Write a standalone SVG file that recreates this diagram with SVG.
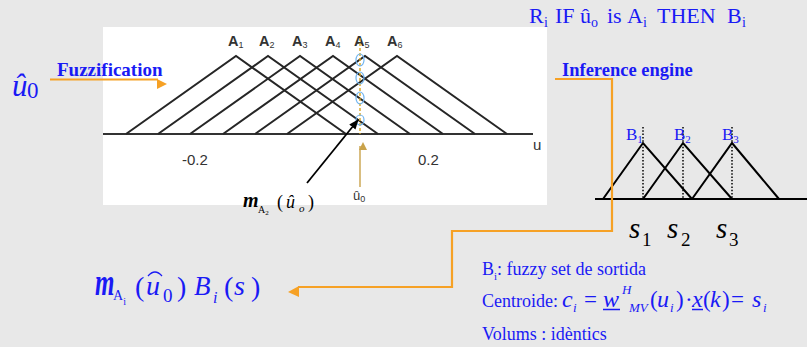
<svg xmlns="http://www.w3.org/2000/svg" width="807" height="347" viewBox="0 0 807 347">
<defs>
<style>
.blue{fill:#1a1af5;font-family:"Liberation Serif","Times New Roman",serif}
.bb{font-weight:bold}
.it{font-style:italic}
.ax{font-family:"Liberation Sans",Arial,sans-serif;fill:#333}
.blk{font-family:"Liberation Serif","Times New Roman",serif;fill:#000}
.tri{fill:none;stroke:#262626;stroke-width:2}
.tri2{fill:none;stroke:#000;stroke-width:2}
.orange{fill:none;stroke:#f6a125;stroke-width:2.2}
.circ{fill:none;stroke:#6fb4f0;stroke-width:1.2}
</style>
<marker id="blk" markerWidth="10" markerHeight="10" refX="9" refY="5" orient="auto" markerUnits="userSpaceOnUse">
<path d="M0,1 L10,5 L0,9 Z" fill="#000"/>
</marker>
<marker id="gold" markerWidth="8" markerHeight="8" refX="4" refY="1" orient="auto" markerUnits="userSpaceOnUse">
<path d="M0,0 L8,4 L0,8 Z" fill="#c9a24a"/>
</marker>
</defs>
<rect width="807" height="347" fill="#e8e8e8"/>

<g id="fuzzy-plot">
<rect x="103" y="27" width="444" height="178" fill="#fff"/>
<line x1="103" y1="134" x2="533" y2="134" stroke="#333" stroke-width="2.2"/>
<polyline class="tri" points="126,134 236,56 346,134"/>
<polyline class="tri" points="158,134 268,56 378,134"/>
<polyline class="tri" points="190,134 300,56 410,134"/>
<polyline class="tri" points="223,134 333,56 443,134"/>
<polyline class="tri" points="255,134 365,56 475,134"/>
<polyline class="tri" points="287,134 397,56 507,134"/>
<text class="ax" x="228" y="46" font-size="14.5" font-weight="bold" fill="#2a2a2a">A<tspan font-size="9" dy="2" font-weight="normal">1</tspan></text>
<text class="ax" x="259" y="46" font-size="14.5" font-weight="bold" fill="#2a2a2a">A<tspan font-size="9" dy="2" font-weight="normal">2</tspan></text>
<text class="ax" x="292" y="46" font-size="14.5" font-weight="bold" fill="#2a2a2a">A<tspan font-size="9" dy="2" font-weight="normal">3</tspan></text>
<text class="ax" x="325" y="46" font-size="14.5" font-weight="bold" fill="#2a2a2a">A<tspan font-size="9" dy="2" font-weight="normal">4</tspan></text>
<text class="ax" x="354" y="46" font-size="14.5" font-weight="bold" fill="#2a2a2a">A<tspan font-size="9" dy="2" font-weight="normal">5</tspan></text>
<text class="ax" x="387" y="46" font-size="14.5" font-weight="bold" fill="#2a2a2a">A<tspan font-size="9" dy="2" font-weight="normal">6</tspan></text>
<line x1="360" y1="38" x2="360" y2="134" stroke="#d9a520" stroke-width="1.4" stroke-dasharray="3,2"/>
<ellipse class="circ" cx="360" cy="60" rx="4" ry="6"/>
<ellipse class="circ" cx="360" cy="78" rx="4" ry="6"/>
<ellipse class="circ" cx="360" cy="98" rx="4" ry="6"/>
<ellipse class="circ" cx="360" cy="120" rx="4" ry="5"/>
<text class="ax" x="182" y="165" font-size="15" fill="#444">-0.2</text>
<text class="ax" x="418" y="165" font-size="15" fill="#444">0.2</text>
<text class="ax" x="533" y="150" font-size="15" fill="#444">u</text>
<line x1="360" y1="187" x2="360" y2="146" stroke="#c9a24a" stroke-width="1.4" marker-end="url(#gold)"/>
<text class="ax" x="353" y="200" font-size="13" fill="#c9a24a">û<tspan font-size="9" dy="2">0</tspan></text>
<line x1="307" y1="183" x2="358" y2="120" stroke="#000" stroke-width="1.8" marker-end="url(#blk)"/>
</g>

<g id="input-u0">
<text class="blue it" x="12" y="96" font-size="31">û</text>
<text class="blue" x="27" y="98" font-size="23">0</text>
</g>

<g id="fuzzification-label">
<text class="blue bb" x="57" y="76" font-size="19">Fuzzification</text>
</g>

<g id="membership-label">
<text class="blk bb it" x="243" y="207" font-size="20">m</text>
<text class="blk" x="258" y="213" font-size="10">A<tspan font-size="7" dy="2">2</tspan></text>
<text class="blk" x="277" y="208" font-size="18">(</text>
<text class="blk it" x="286" y="208" font-size="18">û</text>
<text class="blk it" x="299" y="212" font-size="11">o</text>
<text class="blk" x="308" y="208" font-size="18">)</text>
</g>

<g id="rule">
<text class="blue" y="23" font-size="22"><tspan x="529">R</tspan><tspan x="544" dy="4" font-size="14">i</tspan><tspan x="555" dy="-4">IF</tspan><tspan x="580">û</tspan><tspan x="591" dy="4" font-size="14">o</tspan><tspan x="607" dy="-4">is</tspan><tspan x="627">A</tspan><tspan x="643" dy="4" font-size="14">i</tspan><tspan x="657" dy="-4">THEN</tspan><tspan x="727">B</tspan><tspan x="742" dy="4" font-size="14">i</tspan></text>
</g>

<g id="inference-label">
<text class="blue bb" x="562" y="76" font-size="18.5">Inference engine</text>
</g>

<g id="output-sets">
<line x1="595" y1="199" x2="807" y2="199" stroke="#000" stroke-width="2"/>
<polyline class="tri2" points="603,199 643,143 692,199"/>
<polyline class="tri2" points="643,199 683,143 732,199"/>
<polyline class="tri2" points="692,199 732,143 779,199"/>
<g stroke="#000" stroke-width="1.5" stroke-dasharray="1.5,1.8">
<line x1="643" y1="127" x2="643" y2="199"/>
<line x1="683" y1="127" x2="683" y2="199"/>
<line x1="732" y1="127" x2="732" y2="199"/>
</g>
<text class="blue" x="626" y="140" font-size="17">B<tspan font-size="11" dy="3">1</tspan></text>
<text class="blue" x="674" y="140" font-size="17">B<tspan font-size="11" dy="3">2</tspan></text>
<text class="blue" x="722" y="140" font-size="17">B<tspan font-size="11" dy="3">3</tspan></text>
<g class="blk" fill="#111">
<text x="629" y="238" font-size="29" font-style="italic">s</text><text x="642" y="246" font-size="19">1</text>
<text x="667" y="238" font-size="29" font-style="italic">s</text><text x="681" y="246" font-size="19">2</text>
<text x="716" y="238" font-size="29" font-style="italic">s</text><text x="729" y="246" font-size="19">3</text>
</g>
</g>

<g id="aggregate-formula" class="blue">
<text class="bb it" x="95" y="196.7" font-size="25" transform="scale(1,1.5)">m</text>
<text x="113" y="300" font-size="14">A<tspan font-size="10" dy="5">i</tspan></text>
<text x="135" y="296" font-size="28">(</text>
<text class="it" x="146" y="295" font-size="28">u</text>
<path d="M148,276 Q155,268 162,276" fill="none" stroke="#1a1af5" stroke-width="1.3"/>
<text x="163" y="302" font-size="19">0</text>
<text x="177" y="296" font-size="28">)</text>
<text class="it" x="194" y="295" font-size="27">B</text>
<text class="it" x="213" y="303" font-size="16">i</text>
<text x="224" y="296" font-size="28">(</text>
<text class="it" x="234" y="295" font-size="28">s</text>
<text x="251" y="296" font-size="28">)</text>
</g>

<g id="notes" class="blue">
<text x="482" y="275" font-size="18">B<tspan font-size="11" dy="5">i</tspan><tspan dy="-5">: fuzzy set de sortida</tspan></text>
<text x="482" y="307" font-size="18">Centroide:</text>
<text class="it" x="562" y="307" font-size="24">c</text>
<text class="it" x="573" y="312" font-size="13">i</text>
<text x="584" y="307" font-size="23">=</text>
<text class="it" x="603" y="307" font-size="24">w</text>
<line x1="603" y1="309.5" x2="620" y2="309.5" stroke="#1a1af5" stroke-width="1.5"/>
<text class="it" x="622" y="294" font-size="13">H</text>
<text class="it" x="629" y="312" font-size="13">MV</text>
<text x="650" y="307" font-size="23">(</text>
<text class="it" x="657" y="307" font-size="24">u</text>
<text class="it" x="670" y="312" font-size="13">i</text>
<text x="676" y="307" font-size="23">)</text>
<text x="685" y="307" font-size="23">·</text>
<text class="it" x="692" y="307" font-size="24">x</text>
<line x1="692" y1="309.5" x2="703" y2="309.5" stroke="#1a1af5" stroke-width="1.5"/>
<text x="703" y="307" font-size="23">(</text>
<text class="it" x="710" y="307" font-size="24">k</text>
<text x="722" y="307" font-size="23">)</text>
<text x="731" y="307" font-size="23">=</text>
<text class="it" x="752" y="307" font-size="24">s</text>
<text class="it" x="763" y="312" font-size="13">i</text>
<text x="482" y="340" font-size="18">Volums : idèntics</text>
</g>

<g id="connectors">
<line class="orange" x1="50" y1="79.5" x2="158" y2="79.5"/>
<path d="M157,79 L167,84 L157,89 Z" fill="#f6a125"/>
<path class="orange" d="M555,79 H612 V231 H452 V287 H298"/>
<path d="M299,286 L288,292 L299,297 Z" fill="#f6a125"/>
</g>
</svg>
